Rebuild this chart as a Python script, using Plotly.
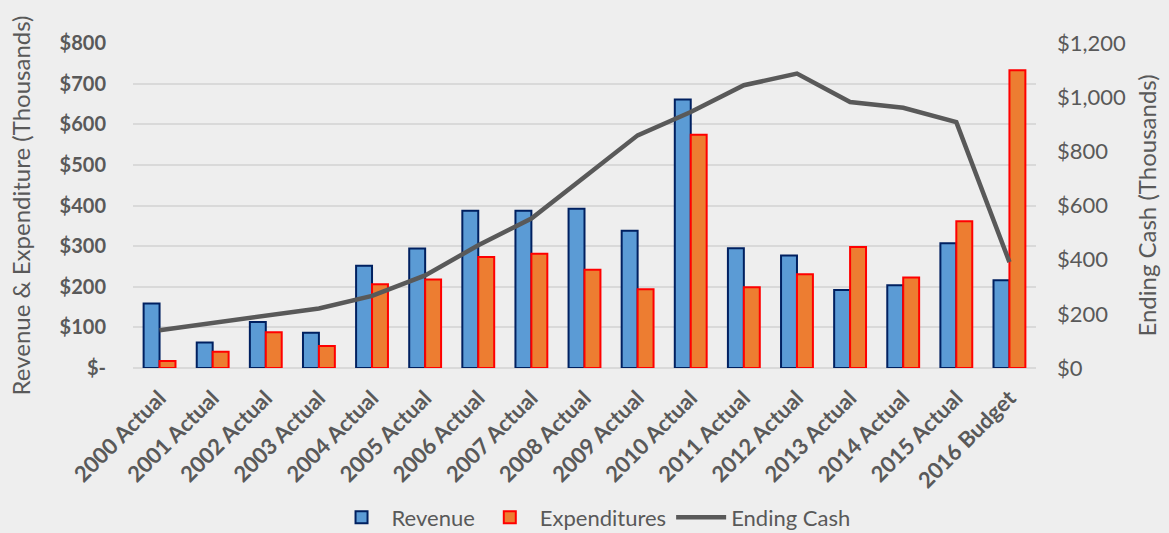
import plotly.graph_objects as go

years = ["2000 Actual", "2001 Actual", "2002 Actual", "2003 Actual", "2004 Actual",
         "2005 Actual", "2006 Actual", "2007 Actual", "2008 Actual", "2009 Actual",
         "2010 Actual", "2011 Actual", "2012 Actual", "2013 Actual", "2014 Actual",
         "2015 Actual", "2016 Budget"]
revenue = [159, 63, 113, 87, 252, 294, 387, 387, 392, 338, 661, 295, 277, 192, 204, 307, 216]
expenditures = [17, 40, 88, 54, 206, 218, 273, 281, 242, 194, 574, 199, 231, 298, 223, 361, 733]
ending_cash = [139, 165, 192, 220, 266, 342, 453, 552, 705, 859, 945, 1044, 1087, 982, 961, 908, 391]

left_ticks = [0, 100, 200, 300, 400, 500, 600, 700, 800]
left_labels = ["$-", "$100", "$200", "$300", "$400", "$500", "$600", "$700", "$800"]

font_name = "Lato"
grey = "#595959"

fig = go.Figure()
fig.add_trace(go.Bar(x=years, y=revenue, name="Revenue",
                     marker=dict(color="#5B9BD5", line=dict(color="#002060", width=2))))
fig.add_trace(go.Bar(x=years, y=expenditures, name="Expenditures",
                     marker=dict(color="#ED7D31", line=dict(color="#FF0000", width=2))))
fig.add_trace(go.Scatter(x=years, y=ending_cash, name="Ending Cash", yaxis="y2",
                         mode="lines", line=dict(color=grey, width=4.5)))

fig.update_layout(
    width=1169, height=533,
    paper_bgcolor="#eeeeee", plot_bgcolor="#eeeeee",
    font=dict(family=font_name, color=grey, size=20),
    margin=dict(l=133, r=133, t=43, b=165, autoexpand=False),
    barmode="group", bargap=0.4, bargroupgap=0,
    xaxis=dict(tickangle=-45, tickfont=dict(size=22, family=font_name, weight="bold"),
               showgrid=False, showline=False, ticks="", automargin=False,
               ticklabelstandoff=12),
    yaxis=dict(range=[0, 800], tickvals=left_ticks, ticktext=left_labels,
               tickfont=dict(size=20, weight="bold"), automargin=False,
               gridcolor="#d9d9d9", gridwidth=1.5, zeroline=True,
               zerolinecolor="#d9d9d9", zerolinewidth=2,
               title=dict(text="Revenue & Expenditure (Thousands)", standoff=22,
                          font=dict(size=24)),
               ticklabelstandoff=26),
    yaxis2=dict(range=[0, 1200], dtick=200, overlaying="y", side="right",
                tickprefix="$", tickformat=",", showgrid=False, zeroline=False,
                tickfont=dict(size=22), automargin=False,
                title=dict(text="Ending Cash (Thousands)", standoff=14, font=dict(size=24)),
                ticklabelstandoff=20),
    legend=dict(orientation="h", x=0.51, xanchor="center", y=-0.395, yanchor="top",
                font=dict(size=22), traceorder="normal", itemwidth=50),
)

fig.write_html("out.html", config={"displayModeBar": False},
               post_script="document.body.style.margin = '0';")
